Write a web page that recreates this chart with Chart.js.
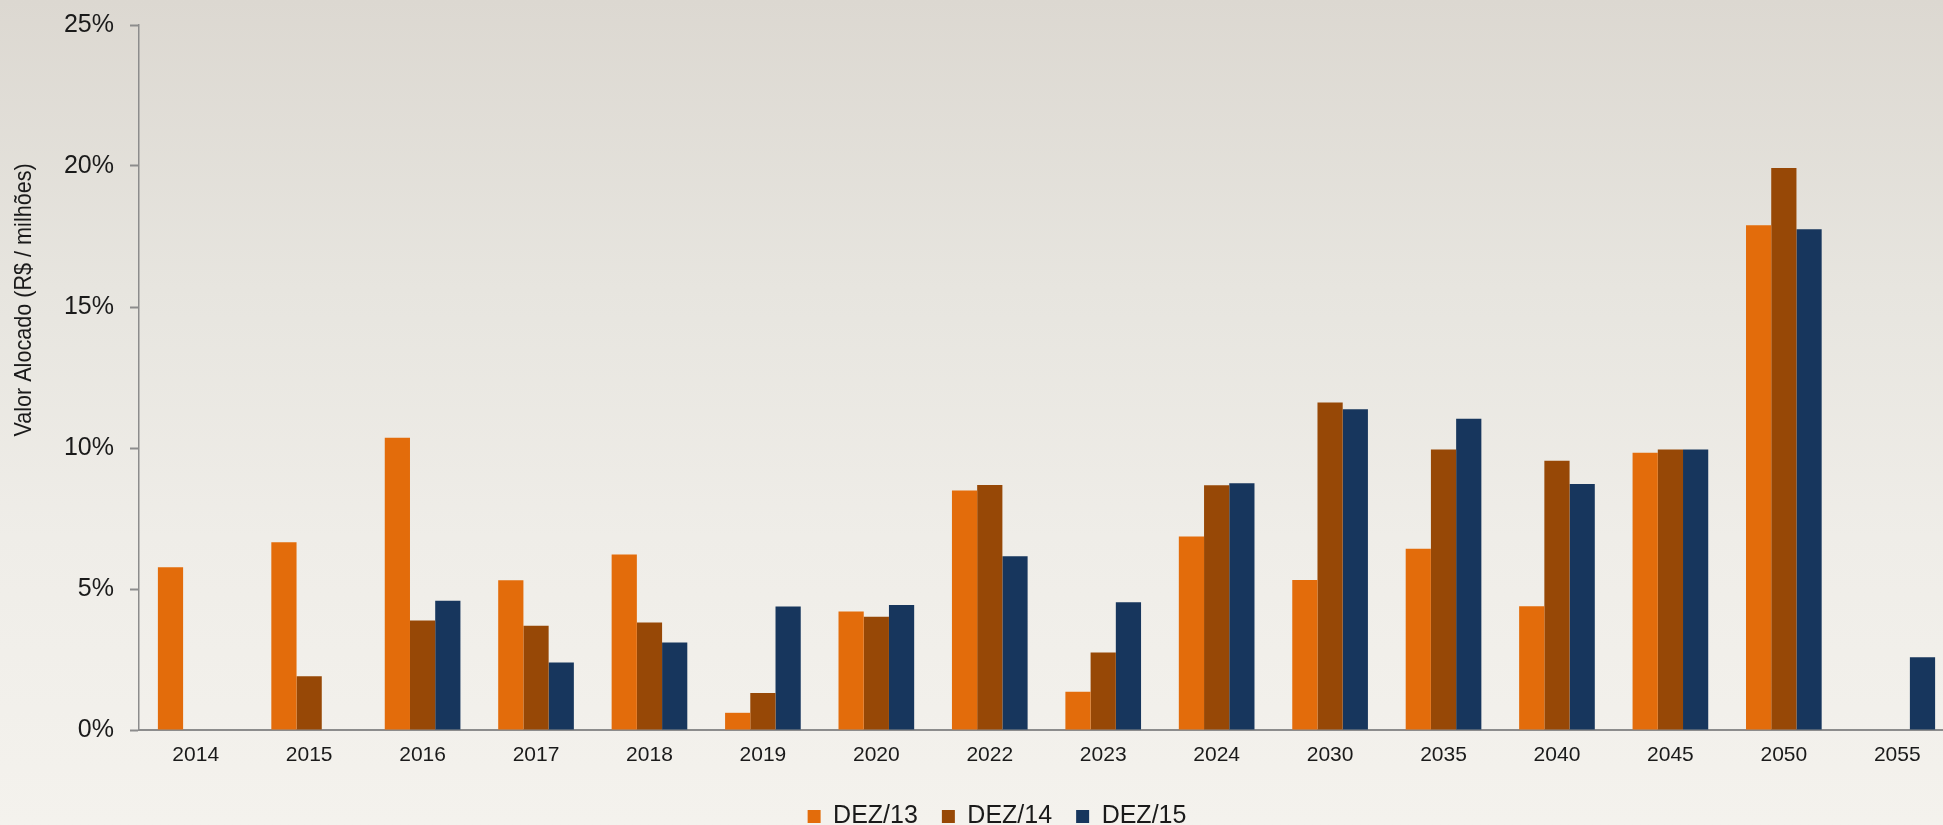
<!DOCTYPE html>
<html lang="pt-BR">
<head>
<meta charset="utf-8">
<title>Valor Alocado</title>
<script src="https://cdn.jsdelivr.net/npm/chart.js@4.4.1/dist/chart.umd.min.js"></script>
<style>
    html, body {
        margin: 0;
        padding: 0;
        width: 1943px;
        height: 825px;
        overflow: hidden;
    }
    body {
        background: linear-gradient(to bottom, #dcd8d1 0%, #e7e5df 35%, #efede8 65%, #f4f2ed 100%);
    }
    #wrap {
        position: absolute;
        left: 0;
        top: 0;
        width: 1960px;
        height: 839px;
    }
</style>
</head>
<body>
<div id="wrap"><canvas id="alocacao"></canvas></div>
<script>
// Vencimentos e participação (%) em cada data-base
const ANOS = ['2014', '2015', '2016', '2017', '2018', '2019', '2020', '2022', '2023', '2024', '2030', '2035', '2040', '2045', '2050', '2055'];
const DEZ13 = [5.77, 6.66, 10.36, 5.31, 6.22, 0.61, 4.20, 8.49, 1.36, 6.86, 5.32, 6.43, 4.39, 9.83, 17.90, null];
const DEZ14 = [null, 1.91, 3.88, 3.70, 3.81, 1.31, 4.02, 8.69, 2.75, 8.68, 11.61, 9.95, 9.55, 9.95, 19.93, null];
const DEZ15 = [null, null, 4.58, 2.39, 3.10, 4.38, 4.43, 6.16, 4.53, 8.75, 11.37, 11.04, 8.72, 9.95, 17.76, 2.58];
const SERIES = ['DEZ/13', 'DEZ/14', 'DEZ/15'];
const Y_TICKS = [0, 5, 10, 15, 20, 25];
const Y_TITLE = 'Valor Alocado (R$ / milhões)';

const CORES = ['#e36c0b', '#974806', '#17365d'];
const AXIS_COLOR = '#8c8c8c';
const TEXT_COLOR = '#1a1a1a';
const FONT = "'Liberation Sans', Arial, sans-serif";

// título do eixo Y, desenhado à parte (texto condensado, acima do centro)
const yTitlePlugin = {
    id: 'yTitle',
    afterDraw(chart) {
        const { ctx, chartArea } = chart;
        const y = chartArea.top + (chartArea.bottom - chartArea.top) * 0.39;
        ctx.save();
        ctx.translate(24, y);
        ctx.rotate(-Math.PI / 2);
        ctx.scale(0.9, 1);
        ctx.font = "24px 'Liberation Sans Narrow', 'Liberation Sans', sans-serif";
        ctx.fillStyle = TEXT_COLOR;
        ctx.textAlign = 'center';
        ctx.textBaseline = 'middle';
        ctx.fillText(Y_TITLE, 0, 0);
        ctx.restore();
    }
};

const datasets = [DEZ13, DEZ14, DEZ15].map((valores, i) => ({
    label: SERIES[i],
    data: valores,
    backgroundColor: CORES[i],
    borderWidth: 0,
    categoryPercentage: 0.667,
    barPercentage: 1.0
}));

new Chart(document.getElementById('alocacao'), {
    type: 'bar',
    data: { labels: ANOS, datasets },
    plugins: [yTitlePlugin],
    options: {
        responsive: true,
        maintainAspectRatio: false,
        animation: false,
        layout: {
            padding: { top: 25, right: 6, left: 40, bottom: 0 }
        },
        scales: {
            x: {
                offset: true,
                afterFit: scale => {
                    scale.height = 50;
                },
                grid: { display: true, drawOnChartArea: false, drawTicks: false },
                border: { color: AXIS_COLOR, width: 2 },
                ticks: {
                    color: TEXT_COLOR,
                    font: { family: FONT, size: 21 },
                    padding: 13,
                    maxRotation: 0,
                    autoSkip: false
                }
            },
            y: {
                min: 0,
                max: 25,
                afterBuildTicks: scale => {
                    scale.ticks = Y_TICKS.map(v => ({ value: v }));
                },
                afterFit: scale => {
                    scale.width = 99;
                    scale.paddingTop = 0;
                    scale.paddingBottom = 0;
                },
                grid: { drawOnChartArea: false, drawTicks: true, tickLength: 9, color: AXIS_COLOR, tickWidth: 2 },
                border: { color: AXIS_COLOR, width: 1.5 },
                ticks: {
                    color: TEXT_COLOR,
                    font: { family: FONT, size: 25 },
                    padding: 16,
                    callback: v => v + '%'
                }
            }
        },
        plugins: {
            legend: {
                position: 'bottom',
                labels: {
                    color: TEXT_COLOR,
                    font: { family: FONT, size: 25 },
                    boxWidth: 13,
                    boxHeight: 13,
                    padding: 24
                }
            },
            tooltip: { enabled: false }
        }
    }
});
</script>
</body>
</html>
